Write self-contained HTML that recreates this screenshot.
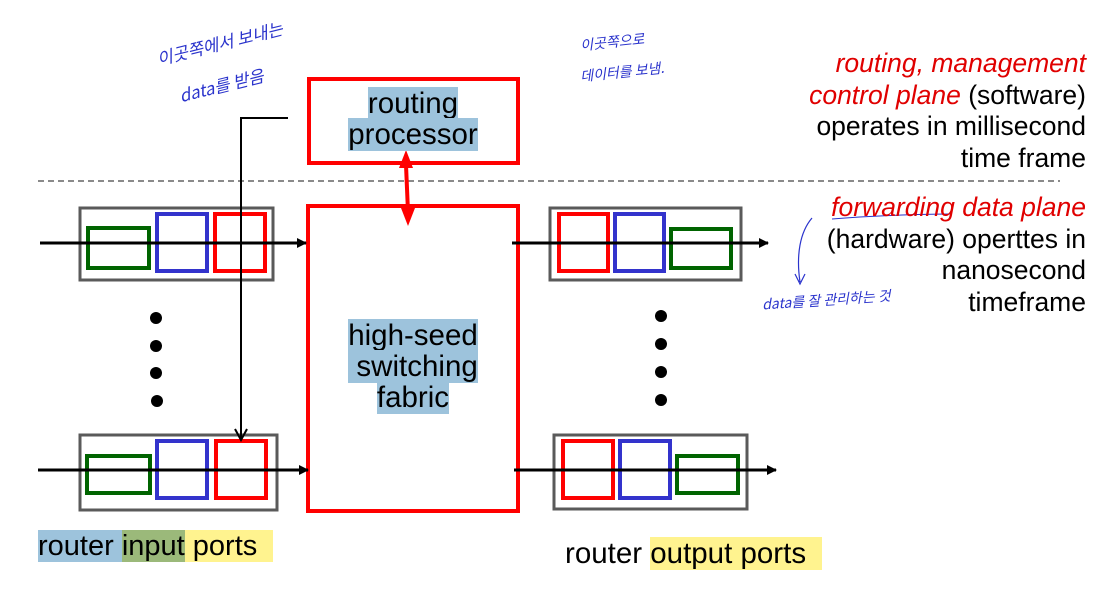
<!DOCTYPE html>
<html><head><meta charset="utf-8"><style>
body{margin:0;background:#fff;width:1108px;height:596px;overflow:hidden;position:relative;font-family:"Liberation Sans",sans-serif}
.t{position:absolute;font-size:26.5px;line-height:31.5px;color:#000}
.h{background:#9dc3dc}
.y{background:#fff38f}
.g{background:#9bb97a}
.r{color:#e00000;font-style:italic}
.hw{position:absolute;font-family:"Noto Sans CJK KR",sans-serif;color:#2a33cc;font-size:17px;font-style:italic}
</style></head><body>
<svg width="1108" height="596" style="position:absolute;left:0;top:0">
<defs><marker id="a" markerWidth="10" markerHeight="10" refX="9" refY="5" orient="auto" markerUnits="userSpaceOnUse"><path d="M0,0L10,5L0,10z" fill="#000"/></marker></defs>
<line x1="38" y1="181" x2="1060" y2="181" stroke="#444" stroke-width="1.2" stroke-dasharray="6,4"/>
<rect x="309" y="79" width="209" height="84" fill="none" stroke="#f00" stroke-width="4"/>
<rect x="308" y="206" width="210" height="305" fill="none" stroke="#f00" stroke-width="4"/>
<line x1="406" y1="165" x2="408" y2="212" stroke="#f00" stroke-width="4"/>
<polygon points="406,150 399,168 413,168" fill="#f00"/>
<polygon points="408,226 401,208 415,208" fill="#f00"/>
<g fill="none" stroke-width="4">
<rect x="80" y="208" width="193" height="72" stroke="#5a5a5a" stroke-width="3"/>
<rect x="88" y="228" width="61" height="40" stroke="#006400"/>
<rect x="157" y="214" width="50" height="57" stroke="#3333cc"/>
<rect x="215" y="214" width="50" height="57" stroke="#f00"/>
<rect x="80" y="435" width="197" height="75" stroke="#5a5a5a" stroke-width="3"/>
<rect x="87" y="456" width="63" height="37" stroke="#006400"/>
<rect x="157" y="441" width="50" height="57" stroke="#3333cc"/>
<rect x="216" y="441" width="50" height="57" stroke="#f00"/>
<rect x="550" y="208" width="191" height="72" stroke="#5a5a5a" stroke-width="3"/>
<rect x="559" y="214" width="49" height="57" stroke="#f00"/>
<rect x="615" y="214" width="49" height="57" stroke="#3333cc"/>
<rect x="671" y="229" width="60" height="39" stroke="#006400"/>
<rect x="554" y="435" width="193" height="74" stroke="#5a5a5a" stroke-width="3"/>
<rect x="563" y="441" width="50" height="57" stroke="#f00"/>
<rect x="620" y="441" width="50" height="57" stroke="#3333cc"/>
<rect x="677" y="456" width="61" height="37" stroke="#006400"/>
</g>
<g stroke="#000" stroke-width="3">
<line x1="40" y1="243" x2="306" y2="243" marker-end="url(#a)"/>
<line x1="38" y1="470" x2="308" y2="470" marker-end="url(#a)"/>
<line x1="512" y1="243" x2="768" y2="243" marker-end="url(#a)"/>
<line x1="514" y1="470" x2="776" y2="470" marker-end="url(#a)"/>
</g>
<polyline points="288,118 241,118 241,440" fill="none" stroke="#000" stroke-width="2"/>
<polyline points="235,429 241,440 247,429" fill="none" stroke="#000" stroke-width="2"/>
<g fill="#000"><circle cx="156" cy="318" r="6"/><circle cx="156" cy="346" r="6"/><circle cx="156" cy="373" r="6"/><circle cx="157" cy="401" r="6"/>
<circle cx="661" cy="316" r="6"/><circle cx="661" cy="344" r="6"/><circle cx="661" cy="372" r="6"/><circle cx="661" cy="400" r="6"/></g>
<path d="M812,218 C800,232 796,255 800,282 M795,274 L800,284 L805,274" fill="none" stroke="#2a33cc" stroke-width="1.2"/>
<path d="M832,219 C870,216 920,214 950,214" fill="none" stroke="#2a33cc" stroke-width="1"/>
</svg>
<div class="t" style="left:300px;width:226px;top:88px;text-align:center;font-size:29.5px;line-height:31px"><span class="h">routing</span><br><span class="h">processor</span></div>
<div class="t" style="left:300px;width:226px;top:320px;text-align:center;font-size:29.5px;line-height:31px"><span class="h">high-seed</span><br><span class="h">&nbsp;switching</span><br><span class="h">fabric</span></div>
<div class="t" style="right:22px;top:48px;text-align:right"><span class="r">routing, management</span><br><span class="r">control plane</span> (software)<br>operates in millisecond<br>time frame</div>
<div class="t" style="right:22px;top:192px;text-align:right"><span class="r">forwarding data plane</span><br>(hardware) operttes in<br>nanosecond<br>timeframe</div>
<div class="t" style="left:38px;top:526px;line-height:40px;font-size:29px"><span class="h">router </span><span class="g">input</span><span class="y"> ports&nbsp;&nbsp;</span></div>
<div class="t" style="left:565px;top:533px;line-height:42px;font-size:29.5px">router <span class="y">output ports&nbsp;&nbsp;</span></div>
<div class="hw" style="left:155px;top:30px;transform:rotate(-14deg)">이곳쪽에서 보내는</div>
<div class="hw" style="left:178px;top:72px;transform:rotate(-14deg)">data를 받음</div>
<div class="hw" style="left:580px;top:32px;font-size:14px;transform:rotate(-6deg)">이곳쪽으로</div>
<div class="hw" style="left:580px;top:62px;font-size:14px;transform:rotate(-6deg)">데이터를 보냄.</div>
<div class="hw" style="left:762px;top:290px;font-size:14px;transform:rotate(-4deg)">data를 잘 관리하는 것</div>
</body></html>
